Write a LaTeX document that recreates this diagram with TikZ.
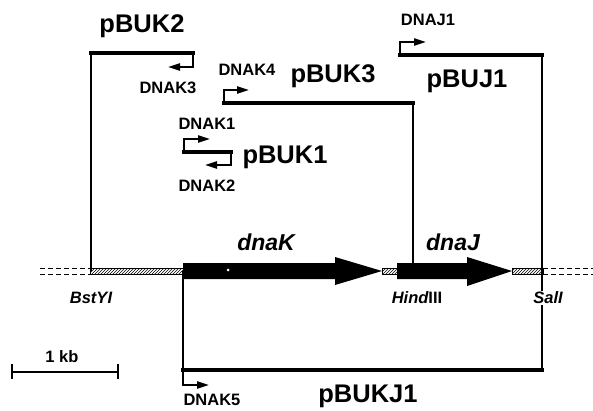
\documentclass[tikz,border=0pt]{standalone}
\usepackage{fontspec}
\setmainfont{Liberation Sans}
\usetikzlibrary{arrows.meta,patterns}
\begin{document}
\begin{tikzpicture}[x=1pt,y=-1pt,
  construct/.style={line width=4pt,line cap=rect},
  thinline/.style={line width=1.3pt},
  primer/.style={line width=2.2pt,-{Triangle[length=12pt,width=7pt]}},
  big/.style={font=\bfseries\fontsize{25.5}{25.5}\selectfont,inner sep=0pt},
  small/.style={font=\bfseries\fontsize{16.5}{16.5}\selectfont,inner sep=0pt},
  gene/.style={font=\bfseries\itshape\fontsize{23}{23}\selectfont,inner sep=0pt},
  site/.style={font=\bfseries\fontsize{16.5}{16.5}\selectfont,inner sep=1pt},
  hatch/.style={draw,line width=0.6pt,pattern=north east lines},
  dashline/.style={line width=0.8pt,dash pattern=on 5pt off 3pt}]
\useasboundingbox (0,0) rectangle (593,411);
% genome
\draw[dashline] (40,268) -- (90,268) (40,274) -- (90,274);
\draw[dashline] (543,268) -- (593,268) (543,274) -- (593,274);
\draw[hatch] (90,268) rectangle (183,274);
\draw[hatch] (382,268) rectangle (397,274);
\draw[hatch] (512,268) rectangle (543,274);
\fill (183,263) -- (335,263) -- (335,257) -- (382,271) -- (335,285) -- (335,279) -- (183,279) -- cycle;
\fill (397,263) -- (467,263) -- (467,257) -- (512,271) -- (467,286) -- (467,279) -- (397,279) -- cycle;
\fill[white] (228,270) circle (1.5);
% coordinates
\coordinate (bst) at (91,271);
\coordinate (k2a) at (91,53);
\coordinate (k2b) at (193,53);
\coordinate (k3e) at (168,67);
\coordinate (k3a) at (224,103);
\coordinate (k3b) at (413,103);
\coordinate (hind) at (413,271);
\coordinate (k4e) at (249,90);
\coordinate (k1a) at (184,152);
\coordinate (k1b) at (231,152);
\coordinate (k1e) at (210,139);
\coordinate (k2e) at (205,165);
\coordinate (j1a) at (400,55);
\coordinate (j1b) at (542,55);
\coordinate (j1e) at (426,42);
\coordinate (kja) at (183,370);
\coordinate (kjb) at (542,370);
\coordinate (kjtop) at (183,271);
\coordinate (k5e) at (209,385);
\coordinate (sb1) at (12,372);
\coordinate (sb2) at (118,372);
% labels
\node[big] (lbuk2) at (142,26) {pBUK2};
\node[small] (ldnak3) at (168,88) {DNAK3};
\node[small] (ldnak4) at (247,70) {DNAK4};
\node[big] (lbuk3) at (333,76) {pBUK3};
\node[small] (ldnak1) at (207,124) {DNAK1};
\node[small] (ldnak2) at (207,186) {DNAK2};
\node[big] (lbuk1) at (285,157) {pBUK1};
\node[small] (ldnaj1) at (428,20) {DNAJ1};
\node[big] (lbuj1) at (467,81) {pBUJ1};
\node[gene] (ldnak) at (266,242) {dnaK};
\node[gene] (ldnaj) at (453,242) {dnaJ};
\node[site] (lbst) at (91,298) {\itshape BstYI};
\node[site] (lhind) at (417,298) {\itshape Hind\upshape III};
\node[site] (lsal) at (548,298) {\itshape SalI};
\node[small] (lkb) at (62,357) {1 kb};
\node[big] (lbukj1) at (368,396) {pBUKJ1};
\node[small,anchor=north] (ldnak5) at (212,394) {DNAK5};
% constructs
\draw[thinline] (k2a) -- (bst);
\draw[construct] (k2a) -- (k2b);
\draw[primer] (k2b) |- (k3e);
\draw[construct] (k3a) -- (k3b);
\draw[thinline] (k3b) -- (hind);
\draw[primer] (k3a) |- (k4e);
\draw[construct] (k1a) -- (k1b);
\draw[primer] (k1a) |- (k1e);
\draw[primer] (k1b) |- (k2e);
\draw[construct] (j1a) -- (j1b);
\draw[primer] (j1a) |- (j1e);
\draw[thinline] (j1b) -- (j1b |- lsal.north);
\draw[thinline] (lsal.south -| kjb) -- (kjb);
\draw[thinline] (kjtop) -- (kja);
\draw[construct] (kja) -- (kjb);
\draw[primer] (kja) |- (k5e);
% scale bar
\draw[thinline] (sb1) -- (sb2);
\draw[thinline] ([yshift=-7pt]sb1) -- ([yshift=8pt]sb1);
\draw[thinline] ([yshift=-7pt]sb2) -- ([yshift=8pt]sb2);
\end{tikzpicture}
\end{document}
